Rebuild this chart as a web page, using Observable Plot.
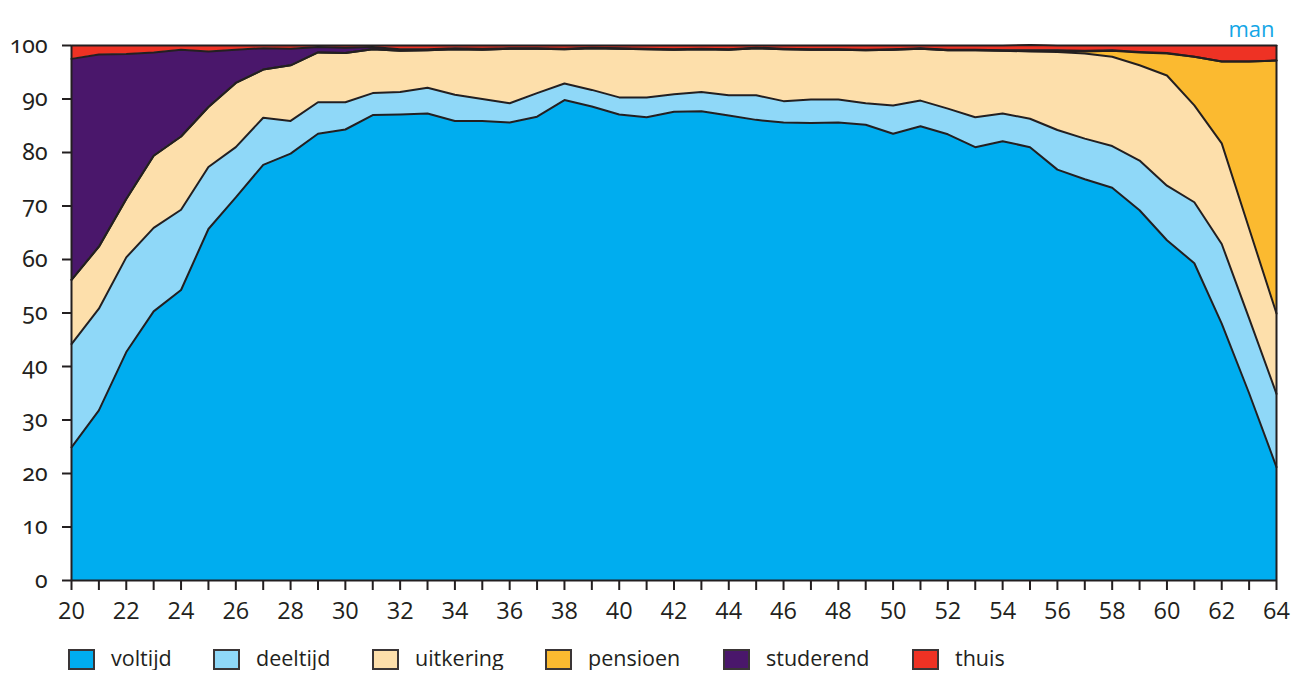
<!DOCTYPE html>
<html>
<head>
<meta charset="utf-8">
<script src="https://cdn.jsdelivr.net/npm/d3@7"></script>
<script src="https://cdn.jsdelivr.net/npm/@observablehq/plot@0.6"></script>
<style>
  body { margin: 0; background: #fff; font-family: "Open Sans", sans-serif; }
  #wrap { width: 1301px; position: relative; }
  .legend { display: flex; align-items: center; height: 21px; margin: 24px 0 0 68px; font-size: 21.5px; line-height: 21px; color: #231f20; }
  .legend .item { display: flex; align-items: center; flex: none; }
  .legend .sw { width: 27px; height: 21px; box-sizing: border-box; border: 2px solid #3a3536; margin-right: 16px; flex: none; }
  .legend .lab { position: relative; top: -2px; }
</style>
</head>
<body>
<div id="wrap"></div>
<script>
const ages = d3.range(20, 65);
const categories = ["voltijd", "deeltijd", "uitkering", "pensioen", "studerend", "thuis"];
const colors = ["#00adef", "#8fd8f8", "#fddfab", "#fbba30", "#4a176b", "#ee3224"];

const voltijd = [24.9, 31.8, 42.7, 50.3, 54.3, 65.7, 71.6, 77.7, 79.8, 83.5, 84.3, 87.0, 87.1, 87.3, 85.9, 85.9, 85.6, 86.7, 89.8, 88.6, 87.1, 86.6, 87.6, 87.7, 86.9, 86.1, 85.6, 85.5, 85.6, 85.2, 83.5, 84.9, 83.4, 81.0, 82.1, 81.0, 76.8, 75.0, 73.4, 69.2, 63.6, 59.3, 48.0, 35.0, 21.2];
const deeltijd = [19.3, 19.0, 17.7, 15.6, 15.0, 11.6, 9.4, 8.8, 6.1, 5.9, 5.1, 4.1, 4.2, 4.8, 4.9, 4.1, 3.6, 4.4, 3.1, 3.1, 3.2, 3.7, 3.3, 3.6, 3.8, 4.6, 4.0, 4.4, 4.3, 4.0, 5.3, 4.8, 4.8, 5.6, 5.2, 5.3, 7.4, 7.6, 7.8, 9.3, 10.2, 11.4, 14.9, 14.0, 13.7];
const uitkering = [12.0, 11.6, 10.9, 13.5, 13.7, 11.2, 12.0, 9.0, 10.4, 9.3, 9.2, 8.2, 7.7, 7.0, 8.5, 9.2, 10.2, 8.3, 6.4, 7.8, 9.1, 9.0, 8.3, 8.0, 8.5, 8.8, 9.7, 9.3, 9.3, 9.9, 10.4, 9.7, 10.9, 12.5, 11.7, 12.6, 14.6, 15.9, 16.7, 17.8, 20.6, 18.1, 18.8, 16.8, 15.0];
const pensioen = [0, 0, 0, 0, 0, 0, 0, 0, 0, 0, 0, 0, 0, 0, 0, 0, 0, 0, 0, 0, 0, 0, 0, 0, 0, 0, 0, 0, 0, 0, 0, 0, 0, 0, 0, 0.1, 0.2, 0.4, 1.1, 2.4, 4.1, 9.1, 15.3, 31.2, 47.3];
const studerend = [41.3, 35.9, 27.1, 19.3, 16.2, 10.4, 6.2, 4.0, 3.1, 1.0, 1.0, 0.4, 0.3, 0.2, 0.2, 0.2, 0.1, 0.1, 0.1, 0.1, 0.1, 0.1, 0.1, 0.1, 0.1, 0.1, 0.1, 0.1, 0.1, 0.1, 0.1, 0.1, 0.1, 0.1, 0.1, 0.1, 0.1, 0.1, 0.1, 0.1, 0.1, 0, 0, 0, 0];
const thuis = [2.5, 1.7, 1.6, 1.3, 0.8, 1.1, 0.8, 0.5, 0.6, 0.3, 0.4, 0.3, 0.7, 0.7, 0.5, 0.6, 0.5, 0.5, 0.6, 0.4, 0.5, 0.6, 0.7, 0.6, 0.7, 0.4, 0.6, 0.7, 0.7, 0.8, 0.7, 0.5, 0.8, 0.8, 0.9, 1.0, 0.9, 1.0, 0.9, 1.2, 1.4, 2.1, 3.0, 3.0, 2.8];

const yTicks = d3.range(0, 101, 10);
const xTicks = d3.range(20, 65, 1);

const series = [voltijd, deeltijd, uitkering, pensioen, studerend, thuis];
const data = [];
categories.forEach((c, i) => ages.forEach((a, j) => data.push({age: a, cat: c, value: series[i][j]})));

const ink = "#231f20";
const chart = Plot.plot({
  width: 1301,
  height: 625,
  marginLeft: 71,
  marginRight: 25,
  marginTop: 45,
  marginBottom: 45,
  style: {fontFamily: "'Open Sans', sans-serif", fontSize: "23px", color: ink},
  x: {domain: [20, 64]},
  y: {domain: [0, 100]},
  color: {domain: categories, range: colors},
  marks: [
    Plot.areaY(data, {x: "age", y: "value", z: "cat", fill: "cat", order: categories}),
    Plot.lineY(data, Plot.stackY2({x: "age", y: "value", z: "cat", order: categories, stroke: ink, strokeWidth: 2})),
    Plot.ruleX([20, 64], {y1: 0, y2: 100, stroke: ink, strokeWidth: 2}),
    Plot.ruleY([0], {stroke: ink, strokeWidth: 2}),
    Plot.axisY({ticks: yTicks, tickSize: 9, tickPadding: 15, stroke: ink, strokeWidth: 2, fill: ink, label: null,
      fontFamily: "'Noto Sans', 'Open Sans', sans-serif", fontVariant: "oldstyle-nums", fontSize: 23}),
    Plot.axisX({ticks: xTicks, tickFormat: d => d % 2 ? "" : d, tickSize: 10, tickPadding: 12, stroke: ink, strokeWidth: 2, fill: ink, label: null, fontSize: 23.5}),
    Plot.text(["man"], {frameAnchor: "top-right", dy: -24, dx: -2, text: d => d, fill: "#13a6e6", fontSize: 22, textAnchor: "end"})
  ]
});
document.getElementById("wrap").appendChild(chart);

// legend item widths (box left to next box left), matched to the reference layout
const legendWidths = [145, 159, 173, 178, 189, 100];
const legend = document.createElement("div");
legend.className = "legend";
categories.forEach((c, i) => {
  const item = document.createElement("div");
  item.className = "item";
  item.style.width = legendWidths[i] + "px";
  const sw = document.createElement("span");
  sw.className = "sw";
  sw.style.background = colors[i];
  const lab = document.createElement("span");
  lab.className = "lab";
  lab.textContent = c;
  item.appendChild(sw);
  item.appendChild(lab);
  legend.appendChild(item);
});
document.getElementById("wrap").appendChild(legend);
</script>
</body>
</html>
